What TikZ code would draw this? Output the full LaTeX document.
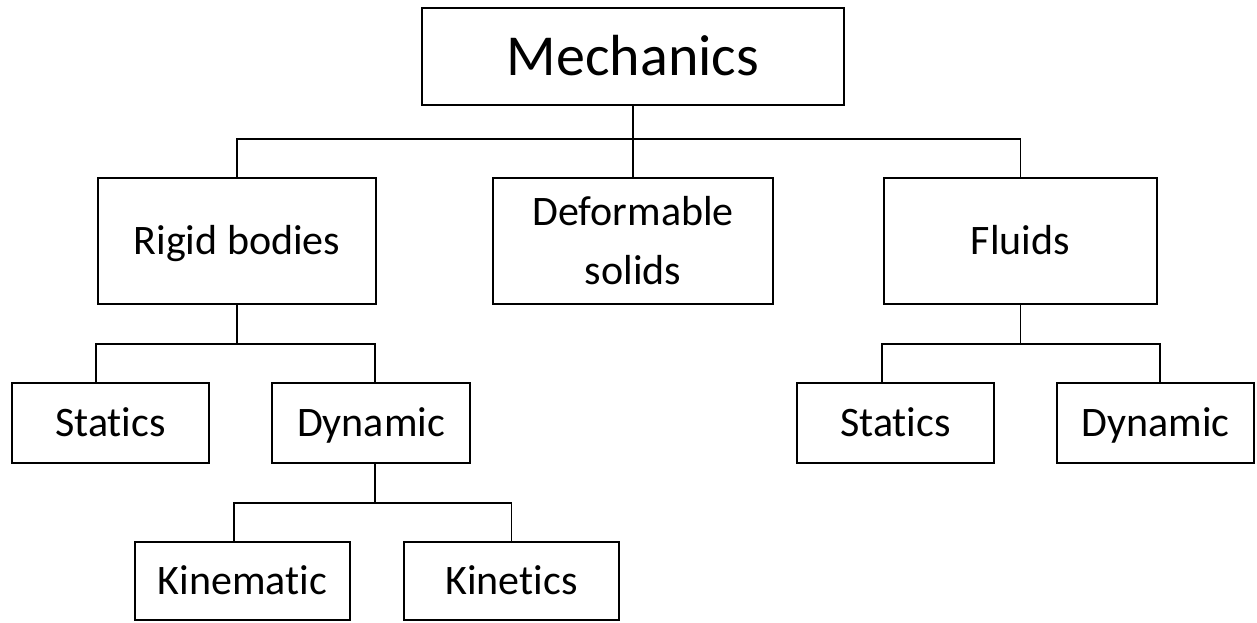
\documentclass[tikz,border=0pt]{standalone}
\usepackage{fontspec}
\setmainfont{Carlito}[Ligatures={NoCommon,NoContextual}]
\usepackage{tikz}
\usetikzlibrary{positioning}

\tikzset{
  topic/.style={draw, line width=1pt, inner sep=0pt, align=center,
    font=\fontsize{21}{29.5}\selectfont, text height=13.5pt, text depth=0pt},
  link/.style={line width=0.9pt}
}

\begin{document}
\begin{tikzpicture}[x=0.5pt, y=-0.5pt]
            \useasboundingbox (0,0) rectangle (1257,622);

            % Root
            \node[topic, minimum width=211pt, minimum height=48.5pt, text height=18.7pt,
              font=\fontsize{29}{35}\selectfont] (mech) at (633,56.5) {Mechanics};

            % First level
            \node[topic, minimum width=139pt, minimum height=63pt] (rigid) at (237,241) {Rigid bodies};
            \node[topic, minimum width=140pt, minimum height=63pt, text height=, text depth=]
              (deform) at (633,241) {Deformable\\solids};
            \node[topic, minimum width=136.5pt, minimum height=63pt] (fluids) at (1020.5,241) {Fluids};

            % Second level
            \node[topic, minimum width=98.5pt, minimum height=40pt] (statL) at (110.5,423) {Statics};
            \node[topic, minimum width=99pt, minimum height=40pt] (dynL) at (371,423) {Dynamic};
            \node[topic, minimum width=98.5pt, minimum height=40pt] (statR) at (895.5,423) {Statics};
            \node[topic, minimum width=98.5pt, minimum height=40pt] (dynR) at (1155.5,423) {Dynamic};

            % Third level
            \node[topic, minimum width=107.5pt, minimum height=39pt] (kinem) at (242.5,581) {Kinematic};
            \node[topic, minimum width=107.5pt, minimum height=39pt] (kinet) at (511.5,581) {Kinetics};

            % Buses
            \coordinate (bus1) at (633,139);
            \coordinate (bus2) at (237,344);
            \coordinate (bus3) at (1020.5,344);
            \coordinate (bus4) at (375,503);

            % Connectors
            \draw[link] (mech.south) -- (bus1);
            \draw[link] (rigid.north) |- (bus1) -| (fluids.north);
            \draw[link] (bus1) -- (deform.north);

            \draw[link] (rigid.south) -- (bus2);
            \draw[link] ([xshift=-7.25pt]statL.north) |- (bus2) -| ([xshift=2pt]dynL.north);

            \draw[link] (fluids.south) -- (bus3);
            \draw[link] ([xshift=-6.75pt]statR.north) |- (bus3) -| ([xshift=2.25pt]dynR.north);

            \draw[link] ([xshift=2pt]dynL.south) -- (bus4);
            \draw[link] ([xshift=-4.25pt]kinem.north) |- (bus4) -| (kinet.north);
\end{tikzpicture}
\end{document}
